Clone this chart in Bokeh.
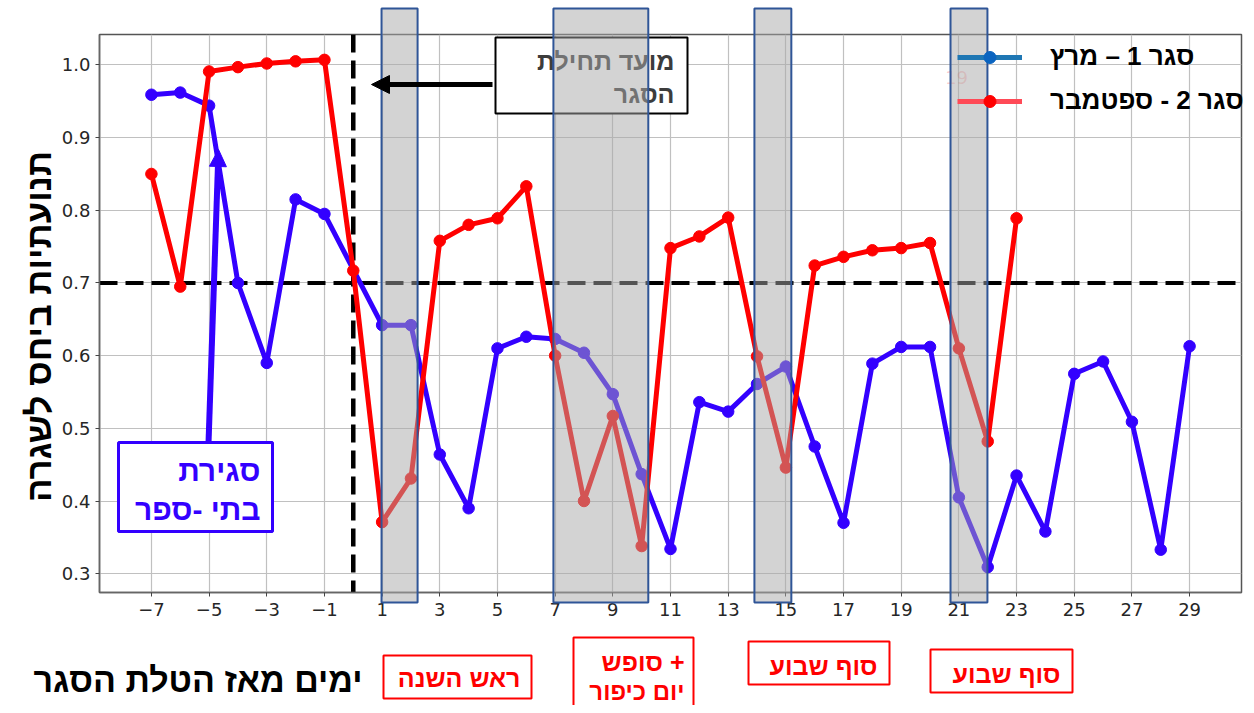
import math
from bokeh.plotting import figure
from bokeh.layouts import column
from bokeh.models import (Range1d, FixedTicker, PrintfTickFormatter, Span, BoxAnnotation,
                          Label, Arrow, NormalHead, Legend, LegendItem)
from bokeh.embed import file_html
from bokeh.resources import INLINE

# ---------------- data ----------------
days_march = list(range(-7, 0)) + list(range(1, 30))
mobility_march = [0.959, 0.962, 0.944, 0.700, 0.590, 0.815, 0.795,
                  0.642, 0.642, 0.464, 0.390, 0.610, 0.626, 0.623, 0.604, 0.547, 0.437,
                  0.334, 0.536, 0.523, 0.561, 0.585, 0.475, 0.370, 0.589, 0.612, 0.612,
                  0.405, 0.309, 0.435, 0.358, 0.575, 0.592, 0.509, 0.333, 0.613]

days_sept = list(range(-7, 24))
mobility_sept = [0.850, 0.695, 0.991, 0.997, 1.002, 1.005, 1.007, 0.717,
                 0.371, 0.431, 0.758, 0.780, 0.789, 0.833, 0.600, 0.400, 0.517, 0.338,
                 0.748, 0.764, 0.790, 0.599, 0.446, 0.724, 0.736, 0.745, 0.748, 0.755,
                 0.610, 0.482, 0.789]

series_labels = ["סגר 1 – מרץ", "סגר 2 - ספטמבר"]
x_ticks = list(range(-7, 30, 2))
y_ticks = [0.3, 0.4, 0.5, 0.6, 0.7, 0.8, 0.9, 1.0]
threshold = 0.7
lockdown_day = 0
# shaded holiday / weekend periods, in days since lockdown
band_starts = [0.98, 6.94, 13.91, 20.71]
band_ends = [2.23, 10.23, 15.19, 21.99]

x_label = "ימים מאז הטלת הסגר"
y_label = "תנועתיות ביחס לשגרה"
start_note = ["מועד תחילת", "הסגר"]
school_note = ["סגירת", "בתי -ספר"]
holiday_notes = [["ראש השנה"], ["סופש +", "יום כיפור"], ["סוף שבוע"], ["סוף שבוע"]]

# ---------------- ranges (5% margins) ----------------
all_x = days_march + days_sept
all_y = mobility_march + mobility_sept
xs = max(all_x) - min(all_x)
ys = max(all_y) - min(all_y)
X0, X1 = min(all_x) - 0.05 * xs, max(all_x) + 0.05 * xs
Y0, Y1 = min(all_y) - 0.05 * ys, max(all_y) + 0.05 * ys

W, H = 1246, 705
FX0, FX1, FY0, FY1 = 99.0, 1241.0, 34.0, 592.0   # frame position in pixels


def dx(px):
    return X0 + (px - FX0) * (X1 - X0) / (FX1 - FX0)


def dy(py):
    return Y1 - (py - FY0) * (Y1 - Y0) / (FY1 - FY0)


def px_of_day(d):
    return FX0 + (d - X0) * (FX1 - FX0) / (X1 - X0)


HEB = "Liberation Sans"
BLUE = "#3300ff"
RED = "#ff0000"

# ---------------- main chart ----------------
p = figure(width=W, height=H, output_backend="svg", toolbar_location=None,
           x_range=Range1d(X0, X1), y_range=Range1d(Y0, Y1),
           min_border_left=int(FX0), min_border_right=int(W - FX1),
           min_border_top=int(FY0), min_border_bottom=int(H - FY1))
p.background_fill_color = "white"
p.border_fill_color = "white"
p.outline_line_color = "#555555"
p.outline_line_width = 1.5

for ax, ticks in ((p.xaxis, x_ticks), (p.yaxis, y_ticks)):
    ax.ticker = FixedTicker(ticks=ticks)
    ax.axis_line_color = "#666666"
    ax.axis_line_width = 1.5
    ax.major_tick_line_color = "#444444"
    ax.major_tick_out = 4
    ax.major_tick_in = 0
    ax.minor_tick_line_color = None
    ax.major_label_text_font = "DejaVu Sans"
    ax.major_label_text_font_size = "18px"
    ax.major_label_text_color = "#262626"
p.xaxis.major_label_standoff = 6
p.yaxis.major_label_standoff = 5
p.xaxis.major_label_overrides = {t: ("−" + str(-t) if t < 0 else str(t)) for t in x_ticks}
p.yaxis.formatter = PrintfTickFormatter(format="%.1f")

p.xgrid.grid_line_color = "#c0c0c0"
p.ygrid.grid_line_color = "#c0c0c0"
p.xgrid.grid_line_width = 1.2
p.ygrid.grid_line_width = 1.2

p.add_layout(Span(location=threshold, dimension="width", line_color="black",
                  line_width=4, line_dash="18 8", level="underlay"))
p.add_layout(Span(location=lockdown_day, dimension="height", line_color="black",
                  line_width=4.5, line_dash="18 8", level="underlay"))

p.line(days_march, mobility_march, line_color=BLUE, line_width=5)
p.scatter(days_march, mobility_march, size=11.5, color=BLUE)
p.line(days_sept, mobility_sept, line_color=RED, line_width=5)
p.scatter(days_sept, mobility_sept, size=11.5, color=RED)

# start-of-lockdown note (under the grey bands)
p.add_layout(BoxAnnotation(left=dx(495), right=dx(687), top=dy(37), bottom=dy(113),
                           fill_color="white", fill_alpha=1, line_color="black",
                           line_alpha=1, line_width=2))
for txt, py in ((start_note[0], 60), (start_note[1], 93)):
    p.add_layout(Label(x=dx(674), y=dy(py), text=txt, text_align="right",
                       text_baseline="middle", text_font=HEB, text_font_size="25px",
                       text_font_style="bold", text_color="#3c3c3c"))

# ---------------- overlay in pixel units (things outside the frame) ----------------
q = figure(width=W, height=H, output_backend="svg", toolbar_location=None,
           x_range=Range1d(0, W), y_range=Range1d(H, 0),
           x_axis_type=None, y_axis_type=None, min_border=0)
q.background_fill_color = None
q.border_fill_color = None
q.outline_line_color = None
q.grid.grid_line_color = None
q.styles = {"position": "absolute", "left": "0px", "top": "0px", "z-index": "2"}
for fig in (p, q):
    if "frame_align" in fig.properties():
        fig.frame_align = False


def qtext(px, py, s, size, color="black", align="right", angle=0.0, alpha=1.0,
          font=HEB, style="bold"):
    q.add_layout(Label(x=px, y=py, text=s, text_align=align, text_baseline="middle",
                       text_font=font, text_font_size=size, text_font_style=style,
                       text_color=color, text_alpha=alpha, angle=angle))


def qbox(l, r, t, b, line_color, line_width=2, fill="white", fill_alpha=1.0):
    q.add_layout(BoxAnnotation(left=l, right=r, top=t, bottom=b,
                               fill_color=fill, fill_alpha=fill_alpha,
                               line_color=line_color, line_alpha=1, line_width=line_width))


# faint stray label
qtext(956, 77, "19", "18px", color=RED, align="center", alpha=0.2, font="DejaVu Sans",
      style="normal")

# legend
nan = float("nan")
l1 = q.line([nan], [nan], line_color="#1f77b4", line_width=5)
s1 = q.scatter([nan], [nan], size=12, color="#0a64c0")
l2 = q.line([nan], [nan], line_color="#ff4a57", line_width=5)
s2 = q.scatter([nan], [nan], size=12, color=RED)
legend = Legend(items=[LegendItem(label=series_labels[0], renderers=[l1, s1]),
                       LegendItem(label=series_labels[1], renderers=[l2, s2])],
                location=(957, H - 116), padding=0, margin=0, spacing=13,
                glyph_width=65, glyph_height=30, label_height=30, label_standoff=28,
                label_text_font=HEB, label_text_font_size="26px",
                label_text_font_style="bold", label_text_color="black",
                background_fill_alpha=0, border_line_alpha=0)
q.add_layout(legend, "center")

# grey bands on top
for a, b in zip(band_starts, band_ends):
    qbox(px_of_day(a), px_of_day(b), 8, 602, "#2f5597", 2, fill="#a8a8a8", fill_alpha=0.5)

# arrow to the lockdown start
q.add_layout(Arrow(end=NormalHead(size=18, fill_color="black", line_color="black"),
                   x_start=492, y_start=84, x_end=371, y_end=84,
                   line_color="black", line_width=5))

# school closure note with arrow
q.add_layout(Arrow(end=NormalHead(size=17, fill_color=BLUE, line_color=BLUE),
                   x_start=208, y_start=443, x_end=218, y_end=149,
                   line_color=BLUE, line_width=6))
qbox(118, 272, 442, 531, BLUE, 3)
qtext(260, 470, school_note[0], "30px", color=BLUE)
qtext(260, 509, school_note[1], "30px", color=BLUE)

# axis titles
qtext(362, 679, x_label, "34px")
qtext(38, 326, y_label, "35px", align="center", angle=math.pi / 2)

# holiday notes below the axis
qbox(383, 531, 655, 698, RED, 2)
qtext(520, 677, holiday_notes[0][0], "25px", color=RED)
qbox(573, 693, 637, 720, RED, 2)
qtext(684, 661, holiday_notes[1][0], "25px", color=RED)
qtext(684, 691, holiday_notes[1][1], "24px", color=RED)
qbox(748, 889, 641, 684, RED, 2)
qtext(877, 665, holiday_notes[2][0], "25px", color=RED)
qbox(930, 1072, 649, 692, RED, 2)
qtext(1060, 673, holiday_notes[3][0], "25px", color=RED)

layout = column(p, q, styles={"position": "relative"})
open("out.html", "w").write(file_html(layout, INLINE))
